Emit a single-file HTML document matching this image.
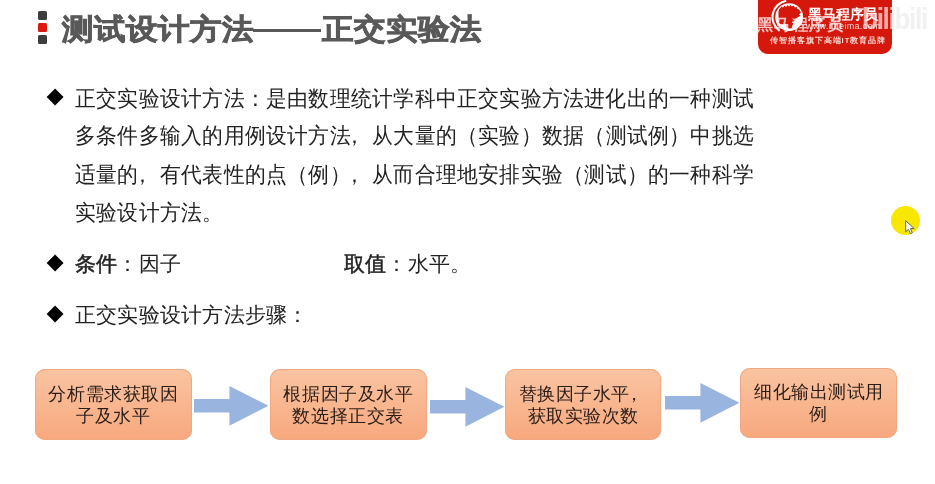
<!DOCTYPE html>
<html><head><meta charset="utf-8">
<style>
html,body{margin:0;padding:0;}
body{will-change:transform;text-spacing-trim:space-all;width:935px;height:484px;background:#fff;position:relative;overflow:hidden;font-family:"Liberation Sans",sans-serif;}
.abs{position:absolute;}
.sq{position:absolute;left:38px;width:9px;height:9px;border-radius:1.5px;background:#3d3d3d;}
.title{position:absolute;left:62px;top:6px;font-size:32px;font-weight:bold;-webkit-text-stroke:0.85px #595959;transform:scaleY(0.92);transform-origin:0 37.5px;color:#595959;white-space:nowrap;line-height:44px;}
.logo{position:absolute;left:758px;top:-10px;width:134px;height:63.6px;background:#d5170c;border-radius:10px;}
.txt{position:absolute;left:75px;font-size:21.2px;letter-spacing:0.22px;color:#222;white-space:nowrap;line-height:37.6px;}
.dia{position:absolute;width:12.2px;height:12.2px;background:#000;transform:rotate(45deg);}
.box{position:absolute;top:369px;width:157px;height:71.4px;border-radius:10px;background:linear-gradient(#f9c4a2,#f8a87d);box-shadow:inset 0 0 0 1px #f0a882;display:flex;align-items:center;justify-content:center;text-align:center;font-size:18.4px;letter-spacing:0.55px;text-indent:0.55px;line-height:22px;padding-top:0.8px;box-sizing:border-box;color:#2a1d18;}
.box div{white-space:nowrap;}
.bb{font-weight:normal;-webkit-text-stroke:0.5px #222;}
.ln{line-height:36px;transform:scaleY(1.06);transform-origin:0 0;}
.cm{position:relative;left:-7px;}
.cm2{position:relative;left:-5px;}
.arr{position:absolute;top:385px;}
</style></head><body>
<div class="sq" style="top:11px"></div>
<div class="sq" style="top:23px;background:#da1a0f"></div>
<div class="sq" style="top:35px"></div>
<div class="title">测试设计方法</div><div class="abs" style="left:253px;top:28.5px;width:68px;height:3.5px;background:#595959"></div><div class="title" style="left:322px">正交实验法</div>

<div class="logo"></div>
<svg class="abs" style="left:758px;top:0" width="134" height="54" viewBox="0 0 134 54">
<path d="M28.3 0.8 A16.6 16.6 0 0 0 21.6 30.8" fill="none" stroke="#fff" stroke-width="2.1"/>
<circle cx="31.2" cy="17.2" r="13.9" fill="#fff"/>
<path d="M20.5 12 L21 9.5 L22.5 8 L23.5 6.5 L25 7.5 L26.5 5.5 L28 7 L29.5 5 L31 6.5 L32.5 5 L34 6.5 L35.5 5.5 L37 7.5 L38.5 6.8 L39.5 9 L41 9.5 L43 12.5 L41 14.5 L42.5 15.5 L38 18.5 L36 21 L33.5 28.5 L29 28.2 L28 24 L23 25 L20.5 22 Z" fill="#d5170c"/>
</svg>
<div class="abs" style="left:757px;top:15.5px;font-size:16px;line-height:18px;color:rgba(255,240,240,0.8);white-space:nowrap;letter-spacing:1.4px;font-weight:bold">黑马程序员</div>
<div class="abs" style="left:808px;top:5.5px;font-size:14px;line-height:16px;font-weight:bold;color:#fff;white-space:nowrap">黑马程序员</div>
<div class="abs" style="left:806px;top:20.5px;font-size:9px;line-height:10px;color:rgba(255,255,255,0.85);white-space:nowrap;letter-spacing:0.3px">www.itheima.com</div>
<div class="abs" style="left:770px;top:36px;font-size:7.5px;line-height:9px;color:#f7d2c9;white-space:nowrap;letter-spacing:0.95px;font-weight:bold">传智播客旗下高端IT教育品牌</div>
<div class="abs" style="left:862px;top:0;width:30px;height:40px;overflow:hidden"><div style="position:absolute;left:0;top:3px;font-size:30px;line-height:32px;font-weight:bold;color:rgba(255,235,235,0.7);white-space:nowrap;letter-spacing:-1.5px;transform:scaleX(0.87);transform-origin:left">bilibili</div></div>
<div class="abs" style="left:892px;top:0;width:40px;height:40px;overflow:hidden"><div style="position:absolute;left:-30px;top:3px;font-size:30px;line-height:32px;font-weight:bold;color:#f1f1f1;white-space:nowrap;letter-spacing:-1.5px;transform:scaleX(0.87);transform-origin:left">bilibili</div></div>

<div class="dia" style="left:48.5px;top:90.9px"></div>
<div class="txt ln" style="top:80px">正交实验设计方法：是由数理统计学科中正交实验方法进化出的一种测试</div>
<div class="txt ln" style="top:117.4px">多条件多输入的用例设计方法<span class="cm">，</span>从大量的（实验）数据（测试例）中挑选</div>
<div class="txt ln" style="top:155.5px">适量的<span class="cm">，</span>有代表性的点（例）<span class="cm">，</span>从而合理地安排实验（测试）的一种科学</div>
<div class="txt ln" style="top:193.6px">实验设计方法。</div>

<div class="dia" style="left:48.5px;top:256.5px"></div>
<div class="txt" style="top:245px"><b class="bb">条件</b>：因子</div>
<div class="txt" style="top:245px;left:344px"><b class="bb">取值</b>：水平。</div>

<div class="dia" style="left:48.5px;top:307.9px"></div>
<div class="txt" style="top:296px">正交实验设计方法步骤：</div>

<div class="box" style="left:34.6px;top:369px"><div>分析需求获取因<br>子及水平</div></div>
<div class="box" style="left:269.6px;top:369.3px;height:71px"><div>根据因子及水平<br>数选择正交表</div></div>
<div class="box" style="left:505.2px;top:369px;width:156.3px;height:71px"><div>替换因子水平<span class="cm2">，</span><br>获取实验次数</div></div>
<div class="box" style="left:740.3px;top:367.7px;width:156.7px;height:70.8px"><div>细化输出测试用<br>例</div></div>

<svg class="arr" style="left:194.3px;top:385.5px" width="75" height="40" viewBox="0 0 75 40"><path d="M0 13H35.4V0L74.4 19.7L35.4 39.7V26.4H0Z" fill="#9ab4e0"/></svg>
<svg class="arr" style="left:429.7px;top:387.4px" width="75" height="40" viewBox="0 0 75 40"><path d="M0 13H35.4V0L74.4 19.7L35.4 39.7V26.4H0Z" fill="#9ab4e0"/></svg>
<svg class="arr" style="left:665px;top:383.4px" width="75" height="40" viewBox="0 0 75 40"><path d="M0 13H35.4V0L74.4 19.7L35.4 39.7V26.4H0Z" fill="#9ab4e0"/></svg>

<div class="abs" style="left:891.2px;top:205.8px;width:29px;height:29px;border-radius:50%;background:#f9e700;"></div>
<svg class="abs" style="left:905px;top:220px" width="12" height="15" viewBox="0 0 12 15"><path d="M0.7 0.7 L0.7 11.8 L3.4 9.3 L5.4 13.6 L7.3 12.8 L5.4 8.6 L9.2 8.6 Z" fill="#fff" stroke="#555" stroke-width="0.9" stroke-linejoin="round"/></svg>
</body></html>
